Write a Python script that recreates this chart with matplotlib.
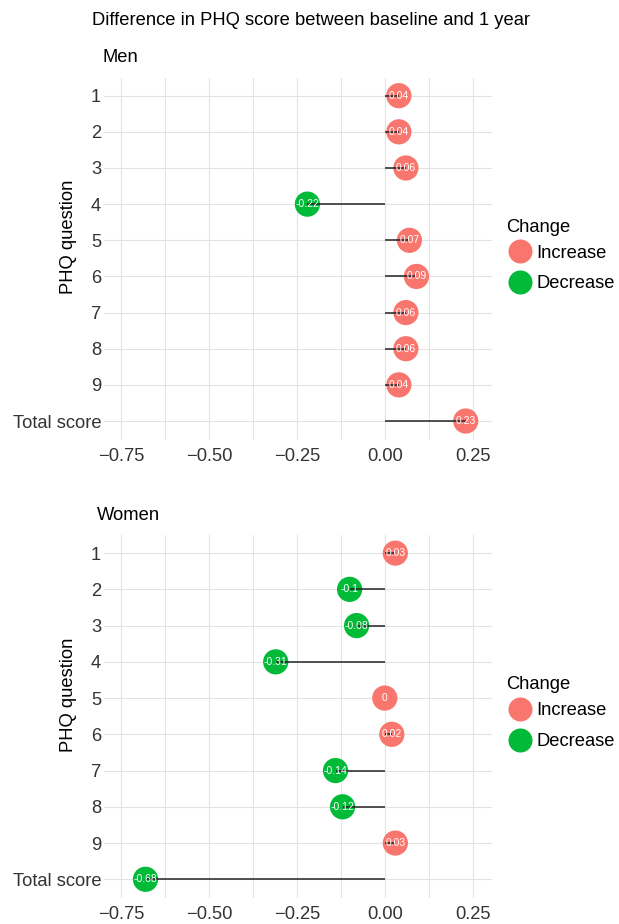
import matplotlib
matplotlib.use("Agg")
import matplotlib.pyplot as plt
from matplotlib.lines import Line2D
import numpy as np

plt.rcParams['font.family'] = ['Liberation Sans', 'DejaVu Sans']

############# The data ##############
questions = ['1', '2', '3', '4', '5', '6', '7', '8', '9', 'Total score']
men_diff = [0.04, 0.04, 0.06, -0.22, 0.07, 0.09, 0.06, 0.06, 0.04, 0.23]
women_diff = [0.03, -0.1, -0.08, -0.31, 0, 0.02, -0.14, -0.12, 0.03, -0.68]
x_ticks = [-0.75, -0.50, -0.25, 0.00, 0.25]

RED = '#F8766D'
GREEN = '#00BA38'
GRID = '#E3E3E3'
FS = 13.2


def draw_panel(ax, diffs, title, title_x):
    '''
    Draws one lollipop panel: a segment from 0 to each value and a
    labelled circle at the value.
    '''
    y = np.arange(len(questions))
    vals = np.array(diffs)
    colors = [RED if v >= 0 else GREEN for v in vals]

    ax.scatter(vals, y, s=330, c=colors, zorder=3, linewidths=0)
    ax.hlines(y, 0, vals, color='#222222', lw=1.1, zorder=4)
    for yi, v in zip(y, vals):
        ax.text(v, yi, f"{v:g}", color='white', fontsize=7.5,
                ha='center', va='center', zorder=5)

    ax.set_xlim(-0.798, 0.305)
    ax.set_ylim(len(questions) - 0.48, -0.5)
    ax.set_yticks(y)
    ax.set_yticklabels(questions)
    ax.set_xticks(x_ticks)
    ax.set_xticklabels([f"{t:.2f}".replace('-', '\u2212') for t in x_ticks])
    ax.set_xticks(np.arange(-0.625, 0.3, 0.25), minor=True)
    ax.grid(True, which='both', color=GRID, lw=0.8, zorder=0)
    ax.tick_params(axis='both', which='both', length=0, labelsize=FS,
                   labelcolor='#333333')
    ax.tick_params(axis='x', pad=6)
    ax.tick_params(axis='y', pad=2)
    for sp in ax.spines.values():
        sp.set_visible(False)
    ax.set_ylabel('PHQ question', fontsize=FS)
    ax.yaxis.set_label_coords(-0.07, 0.56)
    ax.text(title_x, 1.055, title, transform=ax.transAxes, fontsize=FS,
            ha='left', va='center')

    # legend: title drawn as plain text so the spacing can match
    ax.text(1.036, 0.587, 'Change', transform=ax.transAxes, fontsize=FS,
            ha='left', va='center')
    handles = [Line2D([], [], marker='o', ls='', markersize=17.3,
                      markerfacecolor=c, markeredgewidth=0)
               for c in (RED, GREEN)]
    ax.legend(handles, ['Increase', 'Decrease'],
              loc='center left', bbox_to_anchor=(1.03, 0.473),
              frameon=False, fontsize=FS,
              handletextpad=0.05, labelspacing=0.75, borderaxespad=0,
              borderpad=0, handlelength=1.75)


def main():
    fig = plt.figure(figsize=(6.19, 9.24), dpi=100)
    ax_men = fig.add_axes([0.168, 0.524, 0.627, 0.392])
    ax_women = fig.add_axes([0.168, 0.028, 0.627, 0.393])
    draw_panel(ax_men, men_diff, 'Men', -0.005)
    draw_panel(ax_women, women_diff, 'Women', -0.018)
    fig.text(0.149, 0.978, 'Difference in PHQ score between baseline and 1 year',
             fontsize=FS, ha='left', va='center')
    fig.savefig('out.png', dpi=100)


if __name__ == "__main__":
    main()
